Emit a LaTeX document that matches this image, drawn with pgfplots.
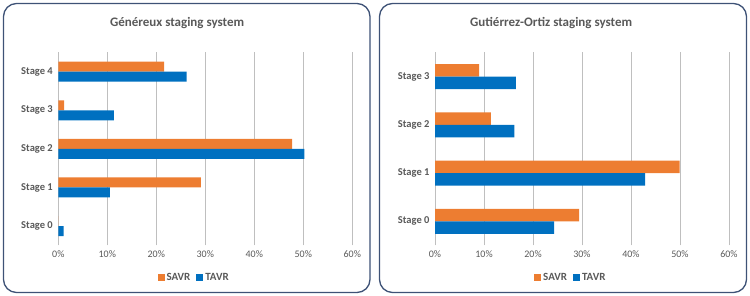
\documentclass[border=0pt]{standalone}
\usepackage{pgfplots}
\pgfplotsset{compat=1.18}
\usepackage{fontspec}
\setmainfont{Carlito}
\definecolor{savr}{HTML}{ED7D31}
\definecolor{tavr}{HTML}{0070C0}
\definecolor{txt}{HTML}{595959}
\definecolor{grid}{HTML}{E3E3E3}
\definecolor{frame}{HTML}{3E5276}

\pgfplotsset{
  stagebars/.style={
    xbar, scale only axis,
    width=294pt, height=193pt,
    xmin=0, xmax=60, ymin=-0.5,
    xtick={0,10,...,60},
    xticklabel={\pgfmathprintnumber{\tick}\%},
    /pgf/number format/assume math mode=true,
    xmajorgrids, ymajorgrids=false,
    major grid style={grid, line width=0.9pt},
    axis line style={draw=none},
    major tick length=0pt, tick style={draw=none},
    ytick=data,
    tick label style={font=\fontsize{10}{12}\selectfont, text=txt},
    yticklabel style={font=\fontsize{10.5}{12}\selectfont\bfseries, xshift=-2pt},
    xticklabel style={yshift=-2pt},
    title style={font=\fontsize{13}{15}\selectfont\bfseries, text=txt, anchor=center},
    legend columns=2,
    legend style={draw=none, fill=none, font=\fontsize{11}{13}\selectfont\bfseries, text=txt,
      anchor=center, /tikz/every even column/.append style={column sep=4pt}},
    legend image code/.code={\fill[#1] (0pt,-3.5pt) rectangle (7pt,3.5pt);},
  }
}

\begin{document}
\begin{tikzpicture}
\useasboundingbox (0pt,0pt) rectangle (750pt,296pt);
\draw[frame, line width=1.3pt, rounded corners=13pt] (3.5pt,3.5pt) rectangle (370pt,292.5pt);
\draw[frame, line width=1.3pt, rounded corners=13pt] (379.5pt,3.5pt) rectangle (746.5pt,292.5pt);

% Généreux staging system
\begin{axis}[stagebars, at={(58.3pt,50.6pt)}, anchor=south west,
    ymax=4.5, bar width=10pt,
    yticklabels={Stage 0,Stage 1,Stage 2,Stage 3,Stage 4},
    title={Généreux staging system},
    title style={at={(axis description cs:0.404,1.121)}},
    legend style={at={(axis description cs:0.462,-0.165)}}]
\addplot[fill=savr, draw=none, bar shift=5pt] coordinates
  {(0,0) (29.1,1) (47.7,2) (1.2,3) (21.6,4)};
\addplot[fill=tavr, draw=none, bar shift=-5pt] coordinates
  {(1.1,0) (10.5,1) (50.2,2) (11.35,3) (26.2,4)};
\legend{SAVR,TAVR}
\end{axis}

% Gutiérrez-Ortiz staging system
\begin{axis}[stagebars, at={(435pt,50.6pt)}, anchor=south west,
    ymax=3.5, bar width=12.5pt,
    yticklabels={Stage 0,Stage 1,Stage 2,Stage 3},
    title={Gutiérrez-Ortiz staging system},
    title style={at={(axis description cs:0.395,1.121)}},
    legend style={at={(axis description cs:0.462,-0.165)}}]
\addplot[fill=savr, draw=none, bar shift=6.25pt] coordinates
  {(29.4,0) (49.9,1) (11.4,2) (9.0,3)};
\addplot[fill=tavr, draw=none, bar shift=-6.25pt] coordinates
  {(24.3,0) (42.9,1) (16.2,2) (16.5,3)};
\legend{SAVR,TAVR}
\end{axis}
\end{tikzpicture}
\end{document}
